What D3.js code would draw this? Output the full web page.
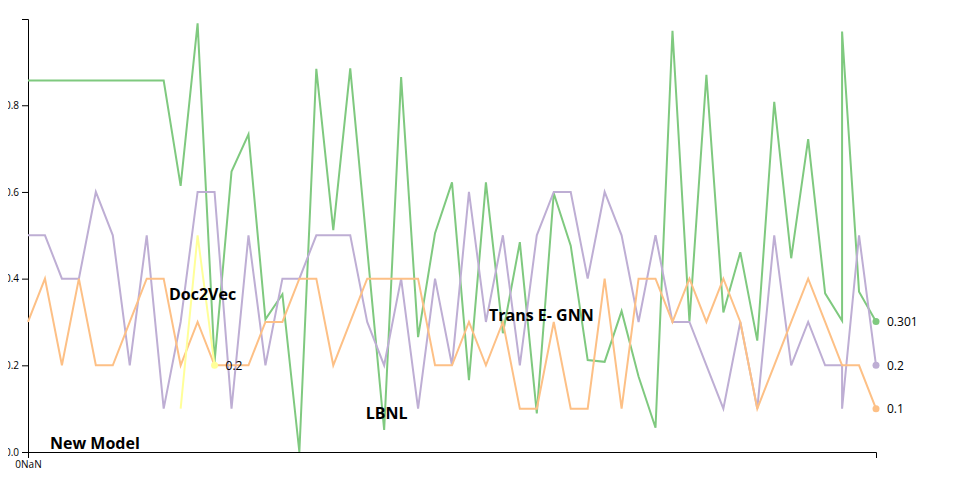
<!DOCTYPE html>
<html>
<head>
<meta charset="utf-8">
<script src="https://cdn.jsdelivr.net/npm/d3@7"></script>
<style>
  body { margin: 8px; font-family: "Open Sans", sans-serif; }
  svg { display: block; }
</style>
</head>
<body>
<script>
// ---- data ----
const xValues = [0,1,2,3,4,5,6,7,8,9,10,11,12,13,14,15,16,17,18,19,20,21,22,23,24,25,26,27,28,29,30,31,32,33,34,35,36,37,38,39,40,41,42,43,44,45,46,47,48,48,49,50];

const greenValues = [0.857,0.857,0.857,0.857,0.857,0.857,0.857,0.857,0.857,0.614,0.989,0.208,0.647,0.733,0.306,0.364,0.0,0.884,0.512,0.885,0.468,0.051,0.865,0.265,0.505,0.622,0.166,0.622,0.274,0.484,0.089,0.597,0.476,0.212,0.208,0.325,0.174,0.056,0.972,0.301,0.870,0.322,0.461,0.257,0.808,0.447,0.722,0.366,0.303,0.970,0.370,0.301];

const purpleValues = [0.5,0.5,0.4,0.4,0.6,0.5,0.2,0.5,0.1,0.3,0.6,0.6,0.1,0.5,0.2,0.4,0.4,0.5,0.5,0.5,0.3,0.2,0.4,0.1,0.4,0.2,0.6,0.3,0.5,0.2,0.5,0.6,0.6,0.4,0.6,0.5,0.3,0.5,0.3,0.3,0.2,0.1,0.3,0.1,0.5,0.2,0.3,0.2,0.2,0.1,0.5,0.2];

const orangeValues = [0.3,0.4,0.2,0.4,0.2,0.2,0.3,0.4,0.4,0.2,0.3,0.2,0.2,0.2,0.3,0.3,0.4,0.4,0.2,0.3,0.4,0.4,0.4,0.4,0.2,0.2,0.3,0.2,0.3,0.1,0.1,0.3,0.1,0.1,0.4,0.1,0.4,0.4,0.3,0.4,0.3,0.4,0.3,0.1,0.2,0.3,0.4,0.3,0.2,0.2,0.2,0.1];

const yellowX = [9,10,11];
const yellowValues = [0.1,0.5,0.2];

const seriesNames = ["New Model","Doc2Vec","LBNL","Trans E- GNN"];
// label anchors in data units (x index, y value)
const labelX = [1.3, 8.31, 19.91, 27.18];
const labelY = [0.007, 0.351, 0.076, 0.302];

const xTickLabel = "0NaN";

// ---- layout ----
const width = 944, height = 484;
const margin = {top: 11, left: 20, right: 76, bottom: 40};
const innerW = 848, innerH = 433;

const svg = d3.select("body").append("svg")
  .attr("width", width).attr("height", height);
const g = svg.append("g").attr("transform", `translate(${margin.left},${margin.top})`);

const x = d3.scaleLinear().domain([0, 50]).range([0, innerW]);
const y = d3.scaleLinear().domain([0, 0.999]).range([innerH, 0]);

const colors = d3.schemeAccent;

const series = [
  {xs: xValues, vs: greenValues, color: colors[0]},
  {xs: xValues, vs: purpleValues, color: colors[1]},
  {xs: xValues, vs: orangeValues, color: colors[2]},
  {xs: yellowX, vs: yellowValues, color: colors[3]}
];

// axes
g.append("g")
  .attr("transform", `translate(0,${innerH})`)
  .call(d3.axisBottom(x).tickValues([0]).tickFormat(() => xTickLabel))
  .call(a => a.selectAll("text").attr("font-family", "Open Sans"));

g.append("g")
  .call(d3.axisLeft(y).ticks(5).tickFormat(d3.format(".1f")))
  .call(a => a.selectAll("text").attr("font-family", "Open Sans"));

const line = d3.line().x(d => x(d[0])).y(d => y(d[1]));

series.forEach(s => {
  const pts = s.xs.map((xv, i) => [xv, s.vs[i]]);
  g.append("path")
    .datum(pts)
    .attr("fill", "none")
    .attr("stroke", s.color)
    .attr("stroke-width", 2)
    .attr("d", line);
});

// end dots + value labels
series.forEach(s => {
  const n = s.xs.length - 1;
  const cx = x(s.xs[n]), cy = y(s.vs[n]);
  g.append("circle").attr("cx", cx).attr("cy", cy).attr("r", 3.5).attr("fill", s.color);
  g.append("text")
    .attr("x", cx + 11).attr("y", cy).attr("dy", "0.35em")
    .attr("font-family", "Open Sans").attr("font-size", 12)
    .attr("fill", "#000")
    .text(s.vs[n]);
});

// series name labels
seriesNames.forEach((name, i) => {
  g.append("text")
    .attr("x", x(labelX[i])).attr("y", y(labelY[i]))
    .attr("font-family", "Open Sans").attr("font-weight", "bold")
    .attr("font-size", 16).attr("fill", "#000")
    .text(name);
});
</script>
</body>
</html>
